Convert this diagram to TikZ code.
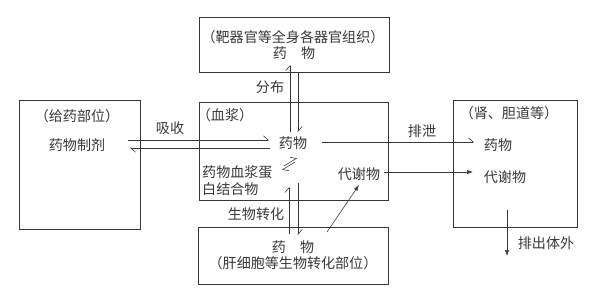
\documentclass[tikz,border=0pt]{standalone}
\usepackage{fontspec}
\newfontfamily\cjk{Noto Sans CJK SC}
\definecolor{inkGray}{RGB}{55,55,55}
\usetikzlibrary{arrows.meta}

\begin{document}
\begin{tikzpicture}[x=0.3mm, y=-0.3mm,
    every node/.style={font=\cjk\fontsize{12}{14.5}\selectfont, text=inkGray,
      inner sep=0pt, align=center},
    box/.style={draw=inkGray, line width=0.5pt},
    harp/.style={draw=inkGray, line width=0.5pt, -{Straight Barb[left,length=4pt,width=7pt]}},
    flow/.style={draw=inkGray, line width=0.5pt, -{Latex[length=5pt,width=3.5pt]}}
  ]
    \useasboundingbox (0,0) rectangle (600,299);
    % Compartment boxes
    \node[box, minimum width=57mm, minimum height=16.5mm] (tgt) at (294,44.5) {};
    \node[box, minimum width=36.3mm, minimum height=38.7mm] (dose) at (79.5,164.5) {};
    \node[box, minimum width=56.7mm, minimum height=29.4mm] (plasma) at (293.5,151) {};
    \node[box, minimum width=57mm, minimum height=17.1mm] (liver) at (293,255.5) {};
    \node[box, minimum width=37.2mm, minimum height=38.1mm] (kidney) at (515,163.5) {};
    % Texts in the boxes
    \node (tgtlab) at (293,37) {（靶器官等全身各器官组织）};
    \node (tgtdrug) at (294,53) {药　物};
    \node (doselab) at (77,116) {（给药部位）};
    \node (dosedrug) at (77,145) {药物制剂};
    \node (plab) at (225,115) {（血浆）};
    \node (pdrug) at (293,143) {药物};
    \node[anchor=west, align=left] (pbound) at (202,181) {药物血浆蛋\\白结合物};
    \node (pmet) at (359,174) {代谢物};
    \node (liverdrug) at (293,247) {药　物};
    \node (liverlab) at (293,263) {（肝细胞等生物转化部位）};
    \node (kidlab) at (509,113) {（肾、胆道等）};
    \node (kiddrug) at (498,145) {药物};
    \node (kidmet) at (505,177) {代谢物};
    % Arrow labels
    \node (absl) at (170,128) {吸收};
    \node (disl) at (270,87) {分布};
    \node (excl) at (422,131) {排泄};
    \node (biol) at (256,214) {生物转化};
    \node (outl) at (546,243) {排出体外};
    % Arrow ends
    \coordinate (abs1s) at (128,140);
    \coordinate (abs1e) at (269,140);
    \coordinate (abs2s) at (270,148);
    \coordinate (abs2e) at (130,148);
    \coordinate (dis1s) at (290,132);
    \coordinate (dis1e) at (290,65);
    \coordinate (dis2s) at (298,72);
    \coordinate (dis2e) at (298,132);
    \coordinate (eq1s) at (284,166);
    \coordinate (eq1e) at (297,158);
    \coordinate (eq2s) at (295,162);
    \coordinate (eq2e) at (282,170);
    \coordinate (bio1s) at (298,183);
    \coordinate (bio1e) at (298,235);
    \coordinate (bio2s) at (289,234);
    \coordinate (bio2e) at (289,187);
    \coordinate (met1s) at (327,232);
    \coordinate (met1e) at (359,185);
    \coordinate (exc1s) at (322,142);
    \coordinate (exc1e) at (474,142);
    \coordinate (exc2s) at (384,172);
    \coordinate (exc2e) at (473,172);
    \coordinate (out1s) at (507,210);
    \coordinate (out1e) at (507,256);
    % Absorption and distribution
    \draw[harp] (abs1s) -- (abs1e);
    \draw[harp] (abs2s) -- (abs2e);
    \draw[harp] (dis1s) -- (dis1e);
    \draw[harp] (dis2s) -- (dis2e);
    % Protein binding
    \draw[harp] (eq1s) -- (eq1e);
    \draw[harp] (eq2s) -- (eq2e);
    % Biotransformation
    \draw[harp] (bio1s) -- (bio1e);
    \draw[harp] (bio2s) -- (bio2e);
    \draw[flow] (met1s) -- (met1e);
    % Excretion
    \draw[harp] (exc1s) -- (exc1e);
    \draw[flow] (exc2s) -- (exc2e);
    \draw[flow] (out1s) -- (out1e);
\end{tikzpicture}
\end{document}
